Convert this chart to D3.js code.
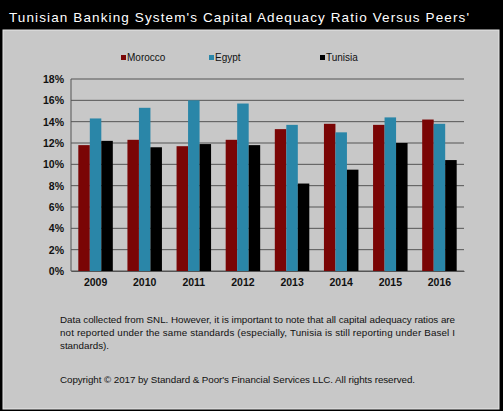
<!DOCTYPE html><html><head><script src="https://cdn.jsdelivr.net/npm/d3@7"></script>
<style>body{margin:0;background:#000}</style></head><body><script>
const categories=["2009","2010","2011","2012","2013","2014","2015","2016"];
const seriesNames=["Morocco","Egypt","Tunisia"];
const morocco=[11.8,12.3,11.7,12.3,13.3,13.8,13.7,14.2];
const egypt=[14.3,15.3,16.0,15.7,13.7,13.0,14.4,13.8];
const tunisia=[12.2,11.6,11.9,11.8,8.2,9.5,12.0,10.4];
const yTicks=[0,2,4,6,8,10,12,14,16,18];
const colors=["#7a0505","#2a86a8","#000000"];
const W=503,H=411;
const svg=d3.select("body").append("svg").attr("width",W).attr("height",H).style("font-family","Arial, Liberation Sans, sans-serif");
svg.append("rect").attr("width",W).attr("height",H).attr("fill","#000");
svg.append("text").attr("x",9).attr("y",22).attr("fill","#fff").attr("font-size",13.5).attr("textLength",460).attr("lengthAdjust","spacing").text("Tunisian Banking System's  Capital Adequacy Ratio Versus Peers'");
svg.append("rect").attr("x",3).attr("y",30).attr("width",496).attr("height",379).attr("fill","#c8c8c8").attr("stroke","#e8e8e8").attr("stroke-width",1);
const x=d3.scaleBand().domain(categories).range([71,464]);
const y=d3.scaleLinear().domain([0,18]).range([271,79]);
const g=svg.append("g");
g.selectAll("line.grid").data(yTicks).join("line").attr("x1",71).attr("x2",464).attr("y1",d=>y(d)).attr("y2",d=>y(d)).attr("stroke","#555").attr("stroke-width",1);
g.append("line").attr("x1",71).attr("x2",71).attr("y1",79).attr("y2",271).attr("stroke","#555");
g.selectAll("text.yt").data(yTicks).join("text").attr("x",64).attr("y",d=>y(d)+4).attr("text-anchor","end").attr("font-size",10.5).attr("font-weight","bold").attr("fill","#111").text(d=>d+"%");
const data=[morocco,egypt,tunisia];
const bw=11.5;
data.forEach((s,i)=>{
 g.selectAll(null).data(s).join("rect").attr("x",(d,j)=>x(categories[j])+x.bandwidth()/2-bw*1.5+i*bw).attr("y",d=>y(d)).attr("width",bw).attr("height",d=>y(0)-y(d)).attr("fill",colors[i]);
});
g.append("g").attr("transform","translate(0,271)").call(d3.axisBottom(x).tickSize(0).tickPadding(8)).call(a=>{a.select(".domain").attr("stroke","#555");a.selectAll("text").attr("font-size",10.5).attr("font-weight","bold").attr("fill","#111").attr("font-family","Arial, Liberation Sans, sans-serif");});
const lx=[121,209,320];
seriesNames.forEach((n,i)=>{
 svg.append("rect").attr("x",lx[i]).attr("y",55).attr("width",5).attr("height",5).attr("fill",colors[i]);
 svg.append("text").attr("x",lx[i]+6).attr("y",60.5).attr("font-size",10).attr("fill","#111").text(n);
});
const notes=["Data collected from SNL. However, it is important to note that all capital adequacy  ratios are","not reported under the same standards (especially, Tunisia is still reporting  under Basel I","standards)."];
notes.forEach((t,i)=>{const tx=svg.append("text").attr("x",60).attr("y",323+i*13).attr("font-size",9.8).attr("fill","#111").text(t); if(i<2) tx.attr("textLength",395).attr("lengthAdjust","spacing");});
svg.append("text").attr("x",60).attr("y",383).attr("font-size",9.8).attr("fill","#111").attr("textLength",355).attr("lengthAdjust","spacing").text("Copyright © 2017 by Standard & Poor's Financial Services LLC. All rights reserved.");
</script></body></html>
